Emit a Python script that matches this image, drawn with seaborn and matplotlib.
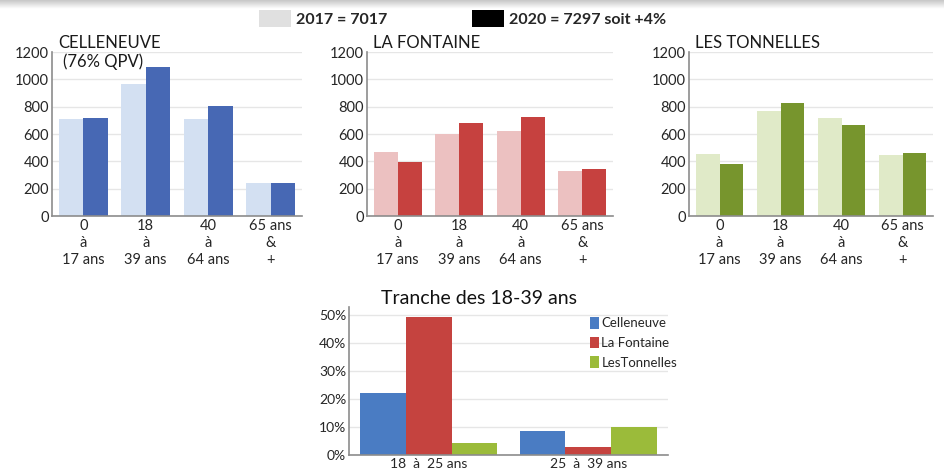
import matplotlib
matplotlib.use("Agg")
import matplotlib.pyplot as plt
from matplotlib.patches import Patch
import seaborn as sns
import pandas as pd
import numpy as np

# ---------------- data ----------------
age_groups = ["0\nà\n17 ans", "18\nà\n39 ans", "40\nà\n64 ans", "65 ans\n&\n+"]
years = ["2017", "2020"]

celleneuve_2017 = [710, 965, 710, 242]
celleneuve_2020 = [715, 1090, 808, 240]
fontaine_2017 = [471, 601, 623, 332]
fontaine_2020 = [396, 682, 726, 347]
tonnelles_2017 = [455, 765, 714, 447]
tonnelles_2020 = [381, 824, 665, 458]

sub_ranges = ["18  à  25 ans", "25  à  39 ans"]
quartiers = ["Celleneuve", "La Fontaine", "LesTonnelles"]
share_celleneuve = [0.222, 0.085]
share_fontaine = [0.493, 0.028]
share_tonnelles = [0.041, 0.101]

legend_labels = ["2017 = 7017", "2020 = 7297 soit +4%"]
titles = ["CELLENEUVE", "LA FONTAINE", "LES TONNELLES"]

# ---------------- style ----------------
sns.set_theme(style="white")
plt.rcParams["font.family"] = ["Lato", "DejaVu Sans"]

W, H = 944, 476
fig = plt.figure(figsize=(W / 100, H / 100), dpi=100)


def rect(left, top, right, bottom):
    return [left / W, 1 - bottom / H, (right - left) / W, (bottom - top) / H]


# subtle shadow band at the very top
axbg = fig.add_axes(rect(0, 0, W, 9))
axbg.imshow(np.linspace(0.78, 1.0, 20).reshape(-1, 1), cmap="gray",
            vmin=0, vmax=1, aspect="auto", extent=(0, 1, 0, 1))
axbg.set_axis_off()

TXT = "#262626"
SPINE = "#8c8c8c"
GRID = "#e6e6e6"


def style_axis(ax):
    for s in ["top", "right"]:
        ax.spines[s].set_visible(False)
    for s in ["left", "bottom"]:
        ax.spines[s].set_color(SPINE)
        ax.spines[s].set_linewidth(1.2)
    ax.yaxis.grid(True, color=GRID, linewidth=1)
    ax.set_axisbelow(True)
    ax.tick_params(axis="both", length=0, colors=TXT)
    ax.set_xlabel("")
    ax.set_ylabel("")


top_specs = [
    (celleneuve_2017, celleneuve_2020, ["#d3e0f2", "#4768b4"], (52, 52, 302, 216)),
    (fontaine_2017, fontaine_2020, ["#ecc1c1", "#c6413f"], (367, 52, 613, 216)),
    (tonnelles_2017, tonnelles_2020, ["#e0eac8", "#77952d"], (689, 52, 933, 216)),
]

for i, (v17, v20, pal, r) in enumerate(top_specs):
    ax = fig.add_axes(rect(*r))
    df = pd.DataFrame({
        "age": age_groups * 2,
        "year": [years[0]] * 4 + [years[1]] * 4,
        "value": v17 + v20,
    })
    sns.barplot(data=df, x="age", y="value", hue="year", palette=pal,
                width=0.78, gap=0, ax=ax, legend=False, saturation=1,
                linewidth=0, edgecolor="none")
    ax.set_ylim(0, 1200)
    ax.set_yticks(range(0, 1201, 200))
    style_axis(ax)
    ax.tick_params(axis="y", labelsize=10.5, pad=2)
    ax.tick_params(axis="x", labelsize=10.5, pad=2)
    for lbl in ax.get_xticklabels():
        lbl.set_linespacing(1.3)
    ax.text(0.025, 1.005, titles[i], transform=ax.transAxes, ha="left",
            va="bottom", fontsize=12, color="#1a1a1a")
    if i == 0:
        ax.text(0.045, 0.99, "(76% QPV)", transform=ax.transAxes, ha="left",
                va="top", fontsize=12, color="#1a1a1a")

# ---------------- bottom chart ----------------
axb = fig.add_axes(rect(349, 307, 668, 455))
dfb = pd.DataFrame({
    "range": sub_ranges * 3,
    "quartier": [quartiers[0]] * 2 + [quartiers[1]] * 2 + [quartiers[2]] * 2,
    "share": share_celleneuve + share_fontaine + share_tonnelles,
})
sns.barplot(data=dfb, x="range", y="share", hue="quartier",
            palette=["#4a7cc3", "#c5433f", "#9bbb3a"], width=0.86, gap=0,
            saturation=1, linewidth=0, edgecolor="none", ax=axb)
axb.set_ylim(0, 0.527)
axb.set_yticks([0, 0.1, 0.2, 0.3, 0.4, 0.5])
axb.set_yticklabels(["0%", "10%", "20%", "30%", "40%", "50%"])
style_axis(axb)
axb.tick_params(axis="both", labelsize=10, pad=2)
axb.text(0.1, 1.0, "Tranche des 18-39 ans", transform=axb.transAxes,
         ha="left", va="bottom", fontsize=14, color="#111111")
leg = axb.legend(loc="upper left", bbox_to_anchor=(0.725, 1.0), frameon=False,
                 fontsize=9.5, handlelength=0.7, handleheight=1.0,
                 handletextpad=0.15, labelspacing=0.55, borderpad=0.25)
for t in leg.get_texts():
    t.set_color(TXT)

# ---------------- top legend ----------------
handles = [Patch(facecolor="#e0e0e0", edgecolor="none"),
           Patch(facecolor="#000000", edgecolor="none")]
fig.legend(handles, legend_labels, ncol=2, loc="upper center",
           bbox_to_anchor=(0.49, 1.0), frameon=False,
           prop={"weight": "bold", "size": 11.5}, handlelength=2.0,
           handleheight=1.3, handletextpad=0.3, columnspacing=5.3,
           borderpad=0.1)

fig.savefig("out.png", dpi=100)
